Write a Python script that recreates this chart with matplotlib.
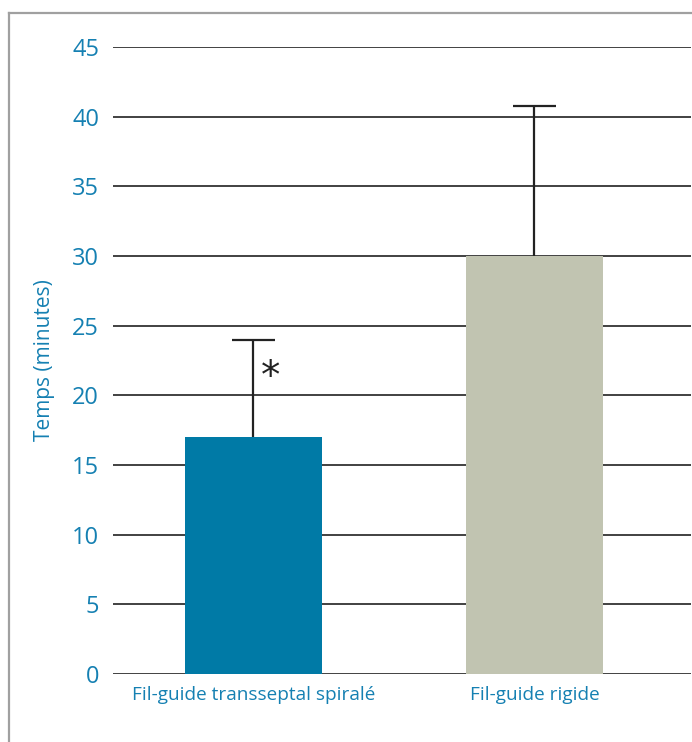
import matplotlib.pyplot as plt
from matplotlib.lines import Line2D

# temps moyen de procedure (minutes)
categories = ["Fil-guide transseptal spiralé", "Fil-guide rigide"]
moyennes = [17, 30]
erreurs = [7, 10.8]
couleurs = ["#007AA6", "#C1C4B1"]
yticks = [0, 5, 10, 15, 20, 25, 30, 35, 40, 45]

bleu = "#1580B2"
plt.rcParams['font.family'] = ['Open Sans', 'DejaVu Sans']

fig = plt.figure(figsize=(6.92, 7.42), dpi=100)
ax = fig.add_axes([113/692, 1 - 674/742, 578/692, (674 - 47)/742])

x = list(range(len(categories)))
largeur = 0.4875
ax.bar(x, moyennes, width=largeur, color=couleurs, zorder=2)

# barres d'erreur vers le haut seulement
hauts = [m + e for m, e in zip(moyennes, erreurs)]
demi_cap = 0.077
ax.vlines(x, moyennes, hauts, color="#222222", lw=1.6, zorder=3)
ax.hlines(hauts, [i - demi_cap for i in x], [i + demi_cap for i in x],
          color="#222222", lw=1.6, zorder=3)

# etoile de significativite
ax.text(0.06, 21.3, "*", fontsize=28, color="#222222", ha="center", va="center",
        family="DejaVu Sans", zorder=4)

ax.set_ylim(0, 45)
ax.set_xlim(-0.5, 1.557)
ax.set_yticks(yticks)
ax.set_xticks(x)
ax.set_xticklabels(categories, fontsize=13.7, color=bleu)
ax.tick_params(axis="y", labelsize=17, labelcolor=bleu, length=0, pad=10)
ax.tick_params(axis="x", length=0, pad=9)
ax.set_ylabel("Temps (minutes)", fontsize=15, color=bleu, labelpad=12)

ax.grid(axis="y", color="#333333", linewidth=1.3, zorder=0)
ax.set_axisbelow(True)
for s in ax.spines.values():
    s.set_visible(False)

# cadre gris autour du graphique
fig.add_artist(Line2D([9/692, 9/692], [0, 1 - 13/742], color="#A0A0A0", lw=1.6))
fig.add_artist(Line2D([9/692, 1], [1 - 13/742, 1 - 13/742], color="#A0A0A0", lw=1.6))

fig.savefig("out.png", dpi=100)
